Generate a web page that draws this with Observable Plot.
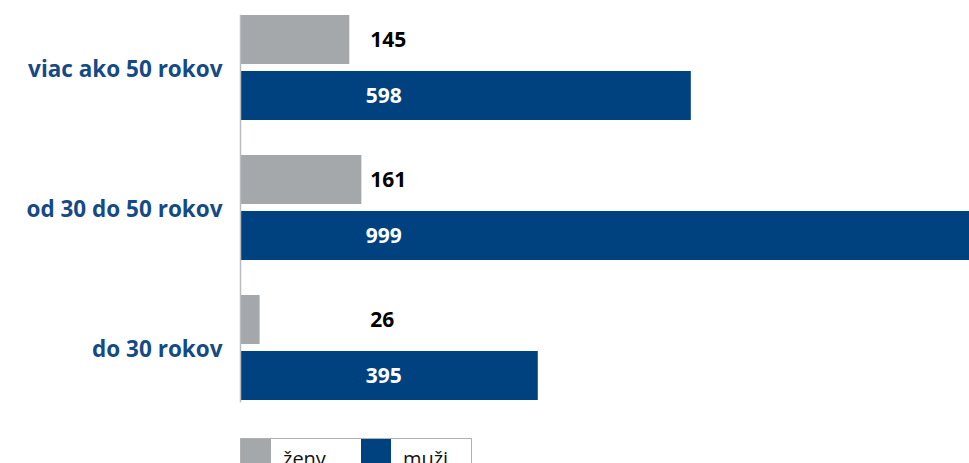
<!DOCTYPE html>
<html>
<head>
<meta charset="utf-8">
<script src="https://cdn.jsdelivr.net/npm/d3@7"></script>
<script src="https://cdn.jsdelivr.net/npm/@observablehq/plot@0.6"></script>
<style>
  body { margin: 0; background: #fff; font-family: "Open Sans", sans-serif; }
  #legend { display: flex; margin-left: 240px; margin-top: 8px; width: 232px; height: 40px;
    border: 1px solid #b0b0b0; box-sizing: border-box; font-size: 20px; color: #111; }
  .item { display: flex; align-items: flex-start; }
  .sw { width: 30px; height: 40px; }
  .lab { margin-left: 12px; margin-right: 0; line-height: 40px; }
</style>
</head>
<body>
<div id="chart"></div>
<div id="legend"></div>
<script>
const groups = ["viac ako 50 rokov", "od 30 do 50 rokov", "do 30 rokov"];
const series = ["ženy", "muži"];
const zeny = [145, 161, 26];
const muzi = [598, 999, 395];
const colors = ["#a5a8ab", "#00427f"];

const data = [];
groups.forEach((g, i) => {
  data.push({group: g, series: series[0], value: zeny[i]});
  data.push({group: g, series: series[1], value: muzi[i]});
});

const labelStart = 172; // value-axis position where labels sit
const chart = Plot.plot({
  width: 969,
  height: 430,
  marginLeft: 240,
  marginRight: 0,
  marginTop: 15,
  marginBottom: 29,
  style: {fontFamily: "Open Sans", background: "#fff"},
  x: {domain: [0, 967], axis: null},
  y: {domain: series, paddingInner: 0.124, paddingOuter: 0, axis: null},
  fy: {domain: groups, paddingInner: 0.243, paddingOuter: 0, label: null, axis: null},
  color: {domain: series, range: colors},
  marks: [
    Plot.barX(data, {fy: "group", y: "series", x: "value", fill: "series", clip: true}),
    Plot.frame({anchor: "left", facet: "super", stroke: "#b8bcc0", strokeWidth: 1.5}),
    Plot.text(data.filter(d => d.series === series[0]), {
      fy: "group", y: "series", x: () => labelStart, text: d => String(d.value),
      textAnchor: "start", fill: "#000", fontSize: 21, fontWeight: "bold"
    }),
    Plot.text(data.filter(d => d.series === series[1]), {
      fy: "group", y: "series", x: () => labelStart + 18, text: d => String(d.value),
      textAnchor: "middle", fill: "#fff", fontSize: 21, fontWeight: "bold"
    }),
    Plot.axisFy({anchor: "left", tickSize: 0, tickPadding: 18, dy: 1, fontSize: 22.5, fontWeight: "bold", fill: "#154a85", label: null})
  ]
});
document.getElementById("chart").appendChild(chart);

const legend = document.getElementById("legend");
series.forEach((s, i) => {
  const it = document.createElement("div");
  it.className = "item";
  it.style.width = i === 0 ? "121px" : "111px";
  const sw = document.createElement("div");
  sw.className = "sw";
  sw.style.background = colors[i];
  const lab = document.createElement("span");
  lab.className = "lab";
  lab.textContent = s;
  it.appendChild(sw); it.appendChild(lab);
  legend.appendChild(it);
});
</script>
</body>
</html>
